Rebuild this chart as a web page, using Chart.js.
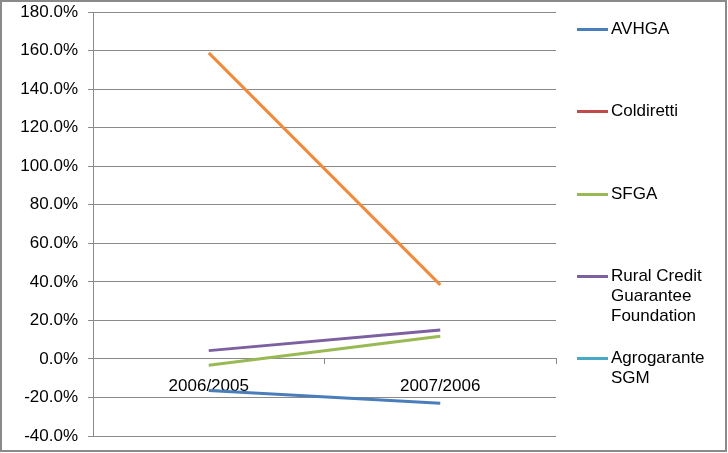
<!DOCTYPE html>
<html>
<head>
<meta charset="utf-8">
<script src="https://cdn.jsdelivr.net/npm/chart.js@4/dist/chart.umd.min.js"></script>
<style>
  html, body { margin: 0; padding: 0; background: #fff; }
  #wrap { position: relative; width: 728px; height: 453px; overflow: hidden; background: #fff; }
  #c { position: absolute; left: 0; top: 0; }
  #frame { position: absolute; left: 0; top: 0; width: 727px; height: 452px; box-sizing: border-box; border: 2px solid #8a8a8a; pointer-events: none; }
  .lg-line { position: absolute; height: 3px; width: 31px; left: 577px; }
  .lg-text { position: absolute; left: 611px; font-family: "Liberation Sans", Arial, sans-serif; font-size: 17px; line-height: 20px; color: #000; white-space: nowrap; }
</style>
</head>
<body>
<div id="wrap">
  <canvas id="c" width="728" height="453"></canvas>
  <div id="legend"></div>
  <div id="frame"></div>
</div>
<script>
// ---- data ----
const categories = ['2006/2005', '2007/2006'];
const seriesNames = ['AVHGA', 'Coldiretti', 'SFGA', 'Rural Credit\nGuarantee\nFoundation', 'Agrogarante\nSGM', 'Series 6'];
const avhga = [-16.4, -23.0];
const coldiretti = [null, null];
const sfga = [-3.3, 11.8];
const ruralCredit = [4.3, 15.0];
const agrogarante = [null, null];
const series6 = [158.8, 38.4];
const yTicks = [-40, -20, 0, 20, 40, 60, 80, 100, 120, 140, 160, 180];

const colors = ['#4A7EBB', '#BE4B48', '#98B954', '#7D60A0', '#46AAC5', '#F08A3C'];
const values = [avhga, coldiretti, sfga, ruralCredit, agrogarante, series6];
const legendY = [29, 111, 194, 276, 358];

Chart.defaults.font.family = '"Liberation Sans", Arial, sans-serif';
Chart.defaults.font.size = 17;
Chart.defaults.color = '#000';

const datasets = values.map((v, i) => ({
  label: seriesNames[i],
  data: v,
  borderColor: colors[i],
  backgroundColor: colors[i],
  borderWidth: 3,
  pointRadius: 0,
  tension: 0,
  fill: false,
  spanGaps: false
}));

new Chart(document.getElementById('c'), {
  type: 'line',
  data: { labels: categories, datasets },
  options: {
    responsive: false,
    animation: false,
    layout: { padding: { left: 0, right: 172, top: 12, bottom: 17 } },
    plugins: { legend: { display: false }, tooltip: { enabled: false } },
    scales: {
      x: {
        position: { y: 0 },
        offset: true,
        afterFit: (s) => { s.height = 0; s.paddingTop = 0; s.paddingBottom = 0; s.paddingLeft = 0; s.paddingRight = 0; },
        grid: { display: true, drawOnChartArea: false, drawTicks: true, tickLength: 5, offset: true, color: '#8a8a8a', lineWidth: 1 },
        border: { display: true, color: '#8a8a8a', width: 1 },
        ticks: { padding: 12, maxRotation: 0, autoSkip: false, color: '#000' }
      },
      y: {
        min: -40, max: 180,
        afterFit: (s) => { s.width = 93; s.paddingTop = 0; s.paddingBottom = 0; },
        afterBuildTicks: (s) => { s.ticks = yTicks.map(v => ({ value: v })); },
        grid: { color: '#8a8a8a', lineWidth: 1, tickLength: 5, drawTicks: true },
        border: { display: true, color: '#8a8a8a', width: 1 },
        ticks: { padding: 10, color: '#000', callback: (v) => v.toFixed(1) + '%' }
      }
    }
  }
});

// HTML legend (first five series, as in the reference)
const lg = document.getElementById('legend');
for (let i = 0; i < 5; i++) {
  const line = document.createElement('div');
  line.className = 'lg-line';
  line.style.top = (legendY[i] - 1.5) + 'px';
  line.style.background = colors[i];
  lg.appendChild(line);
  const t = document.createElement('div');
  t.className = 'lg-text';
  t.style.top = (legendY[i] - 10) + 'px';
  t.innerHTML = seriesNames[i].split('\n').join('<br>');
  lg.appendChild(t);
}
</script>
</body>
</html>
